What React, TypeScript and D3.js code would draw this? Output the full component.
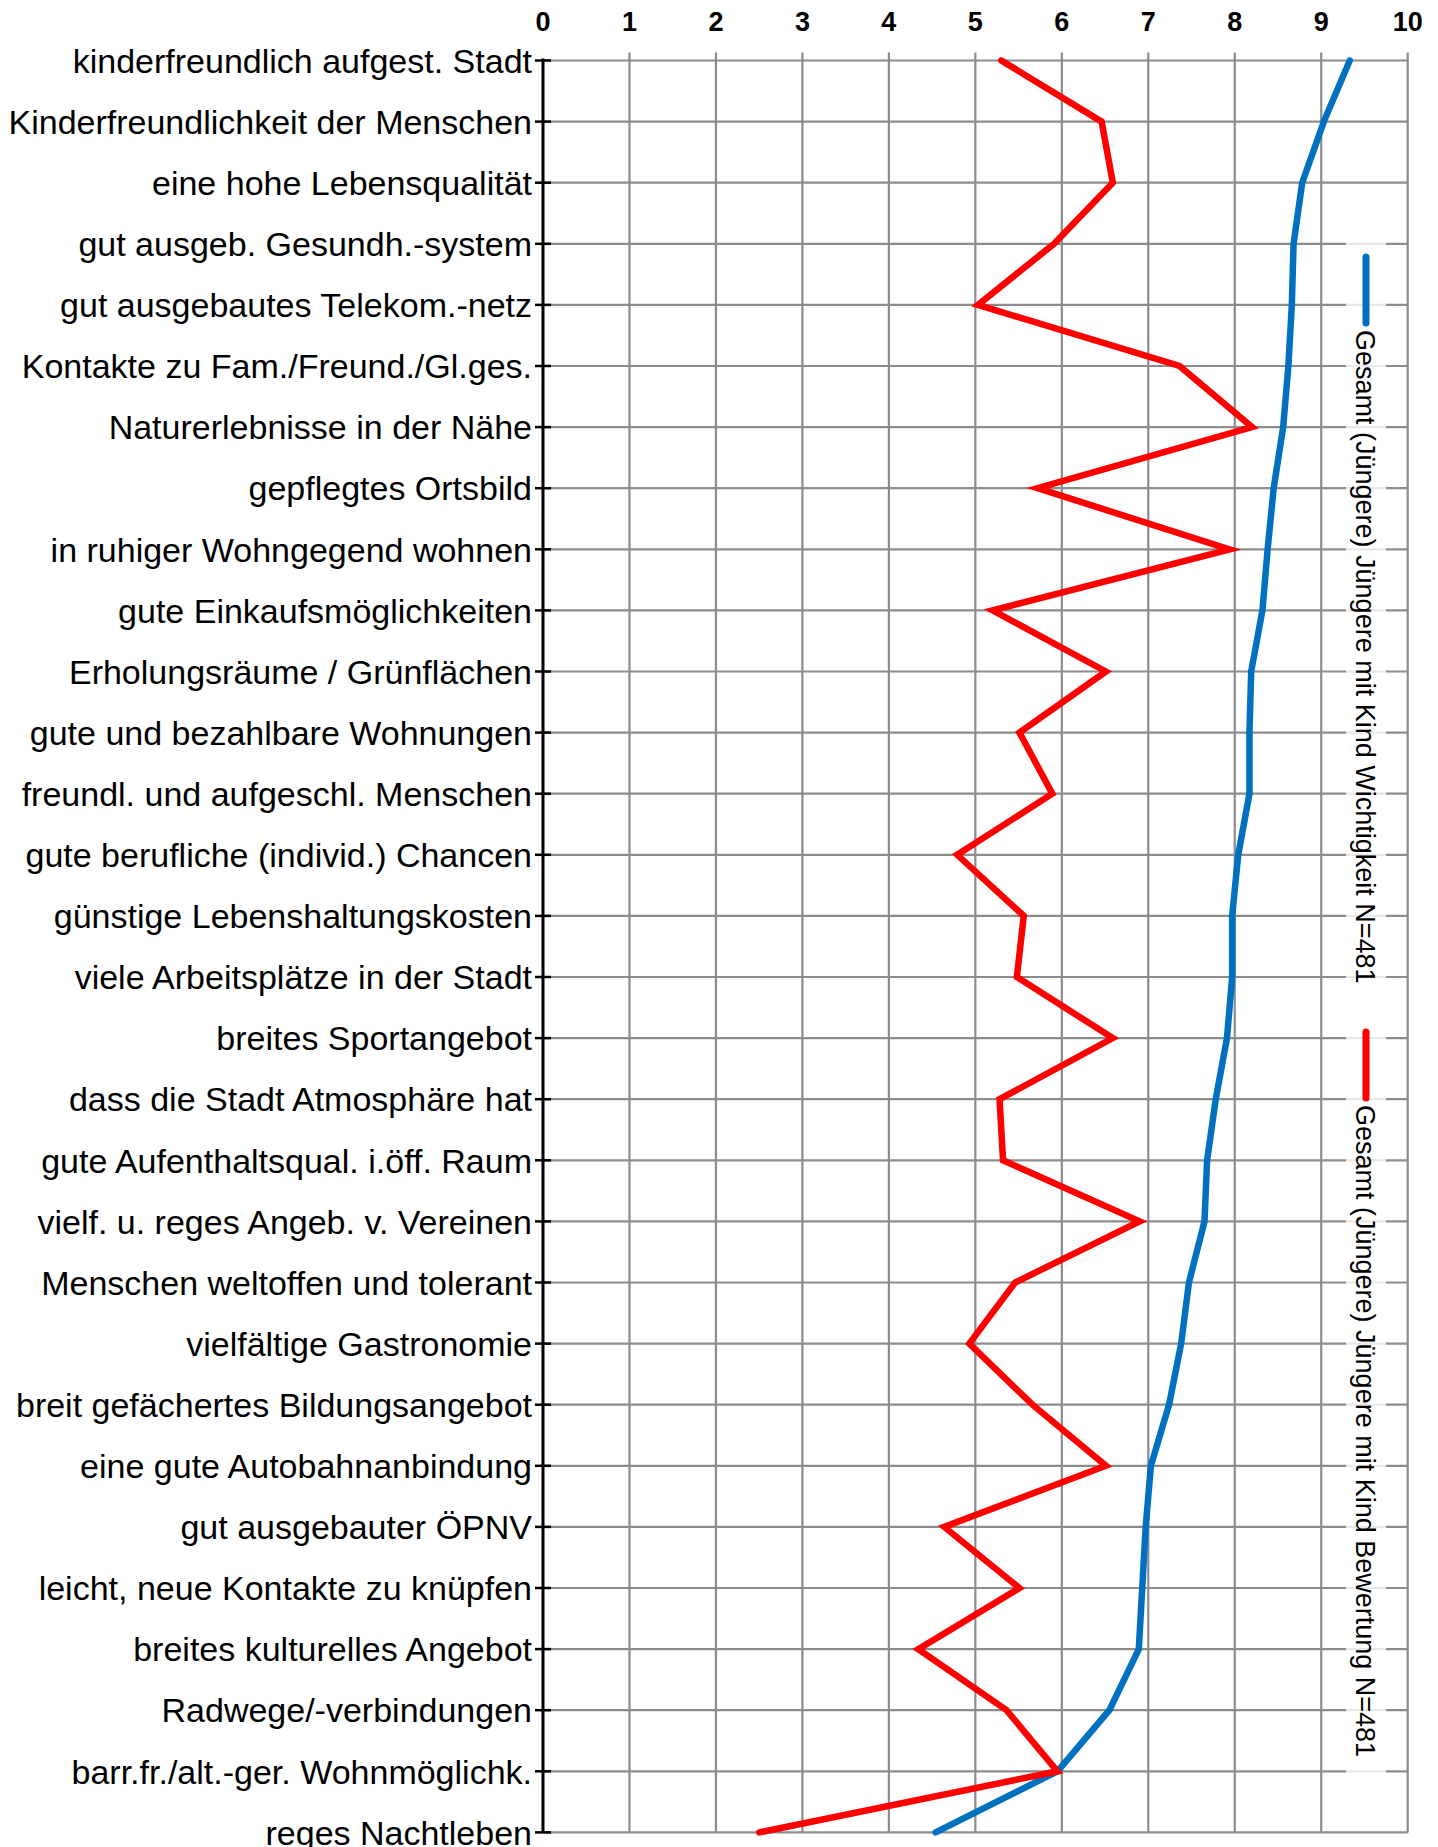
import React, { useRef, useEffect } from 'react';
import * as d3 from 'd3';

// Categories, top to bottom
const categories = [
  'kinderfreundlich aufgest. Stadt',
  'Kinderfreundlichkeit der Menschen',
  'eine hohe Lebensqualität',
  'gut ausgeb. Gesundh.-system',
  'gut ausgebautes Telekom.-netz',
  'Kontakte zu Fam./Freund./Gl.ges.',
  'Naturerlebnisse in der Nähe',
  'gepflegtes Ortsbild',
  'in ruhiger Wohngegend wohnen',
  'gute Einkaufsmöglichkeiten',
  'Erholungsräume / Grünflächen',
  'gute und bezahlbare Wohnungen',
  'freundl. und aufgeschl. Menschen',
  'gute berufliche (individ.) Chancen',
  'günstige Lebenshaltungskosten',
  'viele Arbeitsplätze in der Stadt',
  'breites Sportangebot',
  'dass die Stadt Atmosphäre hat',
  'gute Aufenthaltsqual. i.öff. Raum',
  'vielf. u. reges Angeb. v. Vereinen',
  'Menschen weltoffen und tolerant',
  'vielfältige Gastronomie',
  'breit gefächertes Bildungsangebot',
  'eine gute Autobahnanbindung',
  'gut ausgebauter ÖPNV',
  'leicht, neue Kontakte zu knüpfen',
  'breites kulturelles Angebot',
  'Radwege/-verbindungen',
  'barr.fr./alt.-ger. Wohnmöglichk.',
  'reges Nachtleben',
];

// Wichtigkeit (blue)
const wichtigkeit = [
  9.33, 9.03, 8.78, 8.68, 8.66, 8.62, 8.56, 8.45, 8.38, 8.32,
  8.19, 8.17, 8.17, 8.04, 7.97, 7.97, 7.91, 7.78, 7.68, 7.65,
  7.47, 7.38, 7.24, 7.03, 6.97, 6.93, 6.89, 6.55, 5.95, 4.54,
];

// Bewertung (red)
const bewertung = [
  5.30, 6.46, 6.59, 5.91, 5.03, 7.36, 8.20, 5.72, 7.94, 5.20,
  6.51, 5.51, 5.89, 4.79, 5.56, 5.48, 6.59, 5.28, 5.32, 6.90,
  5.46, 4.93, 5.66, 6.51, 4.64, 5.51, 4.34, 5.36, 5.95, 2.50,
];

const xTicks = [0, 1, 2, 3, 4, 5, 6, 7, 8, 9, 10];

const seriesNames = [
  'Gesamt (Jüngere) Jüngere mit Kind Wichtigkeit N=481',
  'Gesamt (Jüngere) Jüngere mit Kind Bewertung N=481',
];
const seriesColors = ['#0070c0', '#ff0000'];

const W = 1438;
const H = 1847;

const App = () => {
  const svgRef = useRef(null);

  useEffect(() => {
    document.body.style.margin = '0';
    const svg = d3.select(svgRef.current);
    svg.selectAll('*').remove();

    const font = '"Liberation Sans", Arial, sans-serif';

    const x = d3.scaleLinear().domain([0, 10]).range([543, 1407.7]);
    const y = d3.scalePoint().domain(categories).range([60.5, 1832.4]);
    const [top, bottom] = y.range();

    const g = svg.append('g');

    // vertical gridlines (with small tick above first row)
    g.selectAll('.vgrid')
      .data(xTicks.filter(d => d > 0))
      .enter()
      .append('line')
      .attr('x1', d => x(d))
      .attr('x2', d => x(d))
      .attr('y1', top - 8)
      .attr('y2', bottom)
      .attr('stroke', '#8c8c8c')
      .attr('stroke-width', 2.2);

    // horizontal gridlines
    g.selectAll('.hgrid')
      .data(categories)
      .enter()
      .append('line')
      .attr('x1', x(0))
      .attr('x2', x(10))
      .attr('y1', d => y(d))
      .attr('y2', d => y(d))
      .attr('stroke', '#8c8c8c')
      .attr('stroke-width', 2.2);

    // x tick labels on top
    g.selectAll('.xlab')
      .data(xTicks)
      .enter()
      .append('text')
      .attr('x', d => x(d))
      .attr('y', 31)
      .attr('text-anchor', 'middle')
      .style('font-family', font)
      .style('font-size', '27px')
      .style('font-weight', 'bold')
      .style('fill', '#000')
      .text(d => d);

    // left axis with ticks
    g.append('line')
      .attr('x1', x(0))
      .attr('x2', x(0))
      .attr('y1', top - 2)
      .attr('y2', bottom)
      .attr('stroke', '#000')
      .attr('stroke-width', 3);

    g.selectAll('.ytick')
      .data(categories)
      .enter()
      .append('line')
      .attr('x1', x(0) - 8)
      .attr('x2', x(0) + 8)
      .attr('y1', d => y(d))
      .attr('y2', d => y(d))
      .attr('stroke', '#000')
      .attr('stroke-width', 2.5);

    g.selectAll('.ylab')
      .data(categories)
      .enter()
      .append('text')
      .attr('x', x(0) - 11)
      .attr('y', d => y(d))
      .attr('dy', '0.36em')
      .attr('text-anchor', 'end')
      .style('font-family', font)
      .style('font-size', '34px')
      .style('fill', '#000')
      .text(d => d);

    // lines
    const line = d3.line()
      .x(d => x(d[1]))
      .y(d => y(d[0]));

    const series = [
      categories.map((c, i) => [c, wichtigkeit[i]]),
      categories.map((c, i) => [c, bewertung[i]]),
    ];

    series.forEach((s, i) => {
      g.append('path')
        .datum(s)
        .attr('d', line)
        .attr('fill', 'none')
        .attr('stroke', seriesColors[i])
        .attr('stroke-width', 6.5)
        .attr('stroke-linejoin', 'miter')
        .attr('stroke-linecap', 'round');
    });

    // legend box
    const legend = g.append('g');
    legend.append('rect')
      .attr('x', 1346)
      .attr('y', 205)
      .attr('width', 40)
      .attr('height', 1585)
      .attr('fill', '#fff')
      .attr('opacity', 0.8);

    const legendY = [257, 1032];
    seriesNames.forEach((name, i) => {
      legend.append('line')
        .attr('x1', 1366)
        .attr('x2', 1366)
        .attr('y1', legendY[i])
        .attr('y2', legendY[i] + 66)
        .attr('stroke', seriesColors[i])
        .attr('stroke-width', 7)
        .attr('stroke-linecap', 'round');

      legend.append('text')
        .attr('transform', `translate(1366,${legendY[i] + 73}) rotate(90)`)
        .attr('dy', '0.36em')
        .attr('text-anchor', 'start')
        .style('font-family', font)
        .style('font-size', '27px')
        .style('fill', '#000')
        .text(name);
    });
  }, []);

  return (
    <svg
      ref={svgRef}
      width={W}
      height={H}
      viewBox={`0 0 ${W} ${H}`}
      style={{ display: 'block', background: '#fff' }}
    />
  );
};

export default App;
